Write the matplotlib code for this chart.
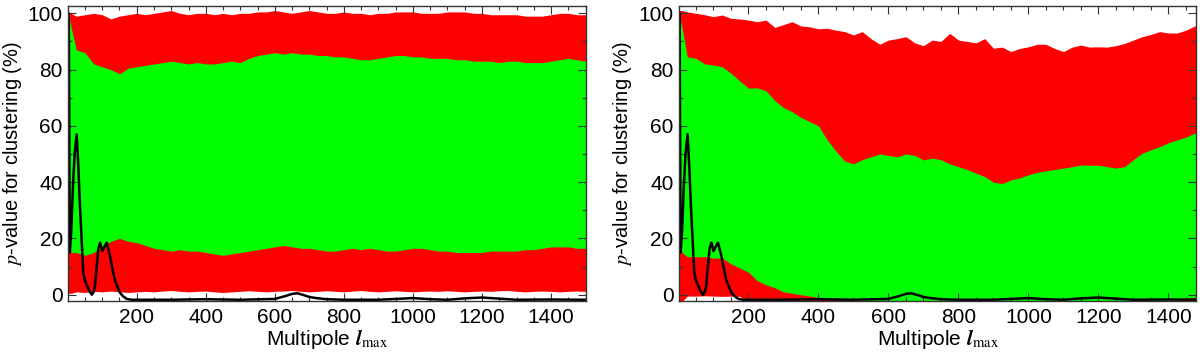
import numpy as np
import matplotlib
matplotlib.use('Agg')
import matplotlib.pyplot as plt
from matplotlib.ticker import MultipleLocator

plt.rcParams['font.family'] = ['Liberation Sans', 'DejaVu Sans']
plt.rcParams['mathtext.fontset'] = 'stix'

# multipole grid for the bands
ell = [2, 10] + list(range(25, 1501, 25))

# left panel bands
left_red_top = [100, 100, 99, 99.5, 100, 99.5, 98, 99, 99.5, 100, 99.5, 100, 100.5, 101, 100, 99.5,
                100, 100, 99.5, 100, 99.5, 100, 100, 100.5, 100.5, 101, 100.5, 100, 100.5, 101, 100.5, 100,
                100, 100.5, 100, 100, 99.5, 100, 100, 100.5, 100.5, 100.5, 100, 100, 100, 100.5, 100.5, 100.5,
                100, 100, 99.5, 99.5, 99.5, 99.5, 99, 99, 99, 99.5, 100, 100, 99.5, 99.5]
left_green_top = [100, 95, 87, 86, 82, 81, 80, 78.5, 80.5, 81, 81.5, 82, 82.5, 83, 82.5, 82,
                  82.5, 82, 82, 82.5, 83, 82.5, 84, 85, 85.5, 86, 85.5, 86, 85.5, 85.5, 85, 85,
                  84.5, 84.5, 84, 83.5, 83.5, 84, 84.5, 85, 85, 84.5, 84.5, 84, 84, 84, 83.5, 83.5,
                  83, 83, 83, 82.5, 83, 83, 82.5, 82.5, 82.5, 83, 83.5, 84, 83.5, 83]
left_green_bot = [20, 15, 15, 14, 15, 17, 19, 20, 19, 18.5, 17.5, 16.5, 16, 15.5, 16, 15.5,
                  15.5, 15, 14.5, 14, 14.5, 15, 15.5, 16, 16.5, 17, 17.5, 17, 16.5, 16.5, 16, 15.5,
                  15.5, 16, 16.5, 16, 16.5, 16, 15.5, 15.5, 16, 16.5, 16.5, 16, 15.5, 15.5, 15, 15,
                  15, 15, 15.5, 15.5, 15.5, 15.5, 16, 16, 16.5, 17, 17, 17, 16.5, 16.5]
left_red_bot = [0.5, 0.5, 1, 0.8, 1.2, 1, 1.3, 1, 0.8, 1, 1.2, 1, 1.3, 1.5, 1.2, 1,
                1.2, 1.3, 1, 0.8, 1, 1.2, 1.4, 1.2, 1, 1.2, 1.3, 1.5, 1.2, 1, 1.2, 1.4,
                1.2, 1, 1.3, 1.5, 1.2, 1, 1.2, 1.4, 1.2, 1, 1.2, 1.3, 1.2, 1.4, 1.2, 1,
                1.2, 1.3, 1.2, 1.4, 1.5, 1.2, 1, 1.2, 1.3, 1.2, 1, 1.2, 1.3, 1.2]

# right panel bands
right_red_top = [101, 101, 100.5, 100, 99.5, 98.8, 99.4, 98.2, 98, 97.6, 97, 97.6, 95, 96, 97, 95.5,
                 95.2, 94.5, 94.7, 94, 93.5, 92.3, 93.5, 91, 89, 90.5, 91, 91.7, 89.5, 88.5, 90.5, 90,
                 92.9, 90.5, 90, 89.5, 91, 87.6, 88, 86.4, 87.5, 88.1, 89, 89, 87.5, 86.4, 88, 88.7,
                 88, 88.1, 88, 88.5, 89.3, 90.5, 91.7, 92.5, 93.5, 93, 93, 94, 95.5, 96]
right_green_top = [100, 95, 84.5, 84, 82, 81.6, 81, 78.7, 76, 73.4, 73.5, 72.5, 69, 66.5, 65, 63,
                   61.5, 60, 55, 51, 47.5, 46.5, 48, 49, 50, 49.5, 49, 50, 49.5, 47.9, 48.5, 48,
                   46.5, 45.5, 44.5, 43.2, 42, 40, 39.5, 40.8, 41.5, 42.6, 43.5, 44, 44.5, 45, 45.5, 46.1,
                   46, 46, 45.5, 45, 45.5, 48, 50.3, 51.5, 52.6, 54, 55, 56, 57.4, 58]
right_green_bot = [20, 15, 13.5, 13.5, 13.5, 13, 13, 11, 9.5, 8, 5, 3.5, 2.5, 1, 0.5, 0,
                   -0.5, -1, -1.2, -1.5, -1.8, -2, -2.5, -2.5, -2.5, -2.5, -2.5, -2.5, -2.5, -2.5, -2.5, -2.5,
                   -2.5, -2.5, -2.5, -2.5, -2.5, -2.5, -2.5, -2.5, -2.5, -2.5, -2.5, -2.5, -2.5, -2.5, -2.5, -2.5,
                   -2.5, -2.5, -2.5, -2.5, -2.5, -2.5, -2.5, -2.5, -2.5, -2.5, -1.8, -1.2, -1, -1]
right_red_bot = [-2.5, -2.5, -0.5, -0.5, -0.4, -0.5, -0.6, -0.5, -0.6, -2.5, -2.5, -2.5, -2.5, -2.5, -2.5, -2.5,
                 -2.5, -2.5, -2.5, -2.5, -2.5, -2.5, -2.5, -2.5, -2.5, -2.5, -2.5, -2.5, -2.5, -2.5, -2.5, -2.5,
                 -2.5, -2.5, -2.5, -2.5, -2.5, -2.5, -2.5, -2.5, -2.5, -2.5, -2.5, -2.5, -2.5, -2.5, -2.5, -2.5,
                 -2.5, -2.5, -2.5, -2.5, -2.5, -2.5, -2.5, -2.5, -2.5, -2.5, -2.5, -2.5, -2.5, -2.5]

# measured p-value (same in both panels)
p_ell = [2, 3, 6, 10, 15, 20, 26, 31, 36, 41, 45, 50, 57, 64, 70, 75, 79, 84, 89, 94,
         100, 106, 113, 118, 123, 130, 137, 145, 152, 160, 171, 185, 200, 300, 400, 500, 600, 630, 650, 665,
         680, 700, 720, 750, 800, 900, 1000, 1050, 1100, 1150, 1200, 1250, 1300, 1400, 1500]
p_val = [20, 100, 15, 22, 38, 50, 57, 45, 30, 18, 8, 5, 3, 1, 0, 1, 3, 10, 16.6, 18.5,
         15.5, 17, 18.5, 16, 13.5, 9, 5, 2.5, 0.6, -0.5, -1.5, -1.8, -1.8, -1.8, -1.6, -1.8, -1.5, -0.5, 0.3, 0.5,
         0, -0.8, -1.2, -1.6, -1.8, -1.8, -1.2, -1.6, -1.8, -1.3, -1.0, -1.4, -1.8, -1.7, -1.8]

panels = [
    (left_red_top, left_green_top, left_green_bot, left_red_bot, 1500),
    (right_red_top, right_green_top, right_green_bot, right_red_bot, 1480),
]

fig = plt.figure(figsize=(12, 3.53), dpi=100)
lefts = [0.057, 0.566]

for i, (rt, gt, gb, rb, xmax) in enumerate(panels):
    ax = fig.add_axes([lefts[i], 0.146, 0.431, 0.837])
    ax.fill_between(ell, rb, rt, color='#ff0000', linewidth=0)
    ax.fill_between(ell, gb, gt, color='#00ff00', linewidth=0)
    ax.plot(p_ell, p_val, color='black', lw=1.8)

    ax.set_xlim(2, xmax)
    ax.set_ylim(-2.4, 102.6)
    ax.xaxis.set_major_locator(MultipleLocator(200))
    ax.xaxis.set_minor_locator(MultipleLocator(50))
    ax.yaxis.set_major_locator(MultipleLocator(20))
    ax.yaxis.set_minor_locator(MultipleLocator(10))
    ax.set_xticks([200, 400, 600, 800, 1000, 1200, 1400])
    ax.tick_params(which='both', direction='in', top=True, right=True, labelsize=15, color='#333333')
    ax.tick_params(which='major', length=6, width=0.8)
    ax.tick_params(which='minor', length=3, width=0.8)
    ax.tick_params(axis='x', pad=5)
    ax.tick_params(axis='y', pad=4)
    for s in ax.spines.values():
        s.set_color('#333333')
        s.set_linewidth(1)

    ax.set_xlabel(r'Multipole $\mathbfit{l}_{\mathrm{max}}$', fontsize=15, labelpad=0)
    ax.set_ylabel(r'$p$-value for clustering (%)', fontsize=14.5, labelpad=3)

plt.savefig('out.png', dpi=100)
